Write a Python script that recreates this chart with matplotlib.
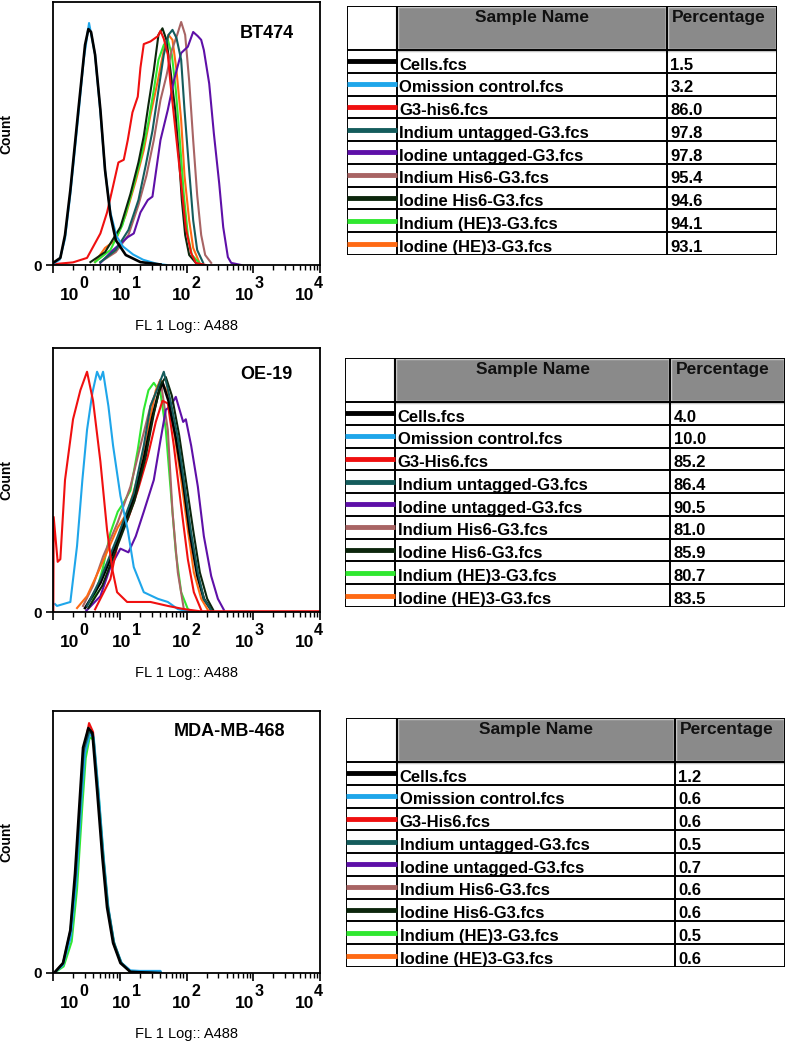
import matplotlib
matplotlib.use("Agg")
import matplotlib.pyplot as plt
import matplotlib.transforms as mtransforms
from matplotlib.patches import Rectangle
from matplotlib.ticker import FixedLocator, NullFormatter
import numpy as np

plt.rcParams['font.family'] = ['Liberation Sans', 'DejaVu Sans']

# samples (same order in every table)
sample_names = ["Cells.fcs", "Omission control.fcs", "G3-his6.fcs",
                "Indium untagged-G3.fcs", "Iodine untagged-G3.fcs",
                "Indium His6-G3.fcs", "Iodine His6-G3.fcs",
                "Indium (HE)3-G3.fcs", "Iodine (HE)3-G3.fcs"]
sample_names_2 = ["Cells.fcs", "Omission control.fcs", "G3-His6.fcs",
                  "Indium untagged-G3.fcs", "Iodine untagged-G3.fcs",
                  "Indium His6-G3.fcs", "Iodine His6-G3.fcs",
                  "Indium (HE)3-G3.fcs", "Iodine (HE)3-G3.fcs"]
sample_colors = ["#000000", "#1fa6ea", "#f01010", "#145c5c", "#5e10a8",
                 "#a86464", "#0c260c", "#30e830", "#ff6a14"]

pct_bt474 = ["1.5", "3.2", "86.0", "97.8", "97.8", "95.4", "94.6", "94.1", "93.1"]
pct_oe19 = ["4.0", "10.0", "85.2", "86.4", "90.5", "81.0", "85.9", "80.7", "83.5"]
pct_mda = ["1.2", "0.6", "0.6", "0.5", "0.7", "0.6", "0.6", "0.5", "0.6"]

decade_exponents = ["0", "1", "2", "3", "4"]

# ---- histogram traces: log10(FL1) and count (% of axis height) ----
# BT474
bt_cells_log = [0.0, 0.11, 0.18, 0.26, 0.38, 0.48, 0.53, 0.57, 0.63, 0.71, 0.78, 0.86, 0.94, 1.09, 1.31, 1.61]
bt_cells_cnt = [0.8, 2.7, 11.4, 28.5, 59, 83.7, 89.7, 88.6, 80, 59, 36, 19, 9.5, 3.8, 1.1, 0.2]
bt_omis_log = [0.0, 0.1, 0.18, 0.26, 0.38, 0.46, 0.50, 0.54, 0.57, 0.63, 0.71, 0.78, 0.86, 0.95, 1.05, 1.2, 1.35, 1.55, 1.7]
bt_omis_cnt = [0.5, 2, 10, 27, 57, 78, 85, 92, 88, 80, 58, 36, 20, 11, 7, 4, 2, 0.5, 0]
bt_g3_log = [0.0, 0.3, 0.51, 0.71, 0.81, 0.90, 0.98, 1.06, 1.12, 1.19, 1.27, 1.31, 1.36, 1.46, 1.57, 1.61, 1.66, 1.72, 1.76, 1.84, 1.92, 1.99, 2.07, 2.14, 2.29]
bt_g3_cnt = [0.3, 1, 2.7, 12, 20, 30, 39, 40, 47.5, 58, 64, 75, 84, 85, 87, 89, 86, 80, 69, 50, 31, 14, 4.5, 0.8, 0]
bt_inun_log = [0.71, 0.94, 1.13, 1.28, 1.39, 1.49, 1.58, 1.66, 1.73, 1.79, 1.85, 1.92, 1.97, 2.04, 2.10, 2.16, 2.25]
bt_inun_cnt = [1.1, 5.7, 13.3, 24.7, 38, 51, 66.5, 80, 87.5, 89.4, 86.3, 78, 59, 36, 17, 5.7, 0.8]
bt_ioun_log = [0.71, 0.90, 1.12, 1.21, 1.31, 1.42, 1.49, 1.54, 1.61, 1.72, 1.81, 1.92, 2.02, 2.10, 2.17, 2.22, 2.26, 2.34, 2.41, 2.49, 2.55, 2.62, 2.67, 2.82]
bt_ioun_cnt = [0.8, 5.7, 10.6, 12, 20, 24.7, 26, 35, 47.5, 59, 70, 80.6, 83, 88.6, 87, 85.6, 81.7, 69, 50, 31, 14.4, 3, 0.8, 0]
bt_inhis_log = [0.71, 0.94, 1.13, 1.28, 1.40, 1.51, 1.61, 1.70, 1.78, 1.86, 1.92, 1.98, 2.04, 2.10, 2.16, 2.22, 2.28, 2.37]
bt_inhis_cnt = [1.1, 4.9, 11.4, 22.8, 34, 47.5, 62.7, 72, 81.7, 87.5, 92.4, 87.5, 70, 47.5, 26.6, 11.4, 3.8, 0.8]
bt_iohis_log = [0.56, 0.78, 1.01, 1.16, 1.28, 1.36, 1.43, 1.51, 1.58, 1.64, 1.70, 1.76, 1.83, 1.89, 1.93, 1.98, 2.04, 2.14]
bt_iohis_cnt = [1.1, 4.9, 14.4, 27, 39, 49, 61, 74, 87.5, 90, 85.5, 74, 59, 40, 24.7, 11.4, 3.8, 0.8]
bt_inhe_log = [0.63, 0.86, 1.04, 1.19, 1.31, 1.42, 1.51, 1.58, 1.66, 1.72, 1.78, 1.84, 1.90, 1.96, 2.02, 2.08, 2.19]
bt_inhe_cnt = [1.1, 5.7, 15.2, 28.5, 40, 53, 66.5, 78, 83.7, 85.6, 80, 66.5, 47.5, 26.6, 11.4, 3.8, 0.8]
bt_iohe_log = [0.63, 0.78, 0.94, 1.09, 1.24, 1.36, 1.46, 1.57, 1.66, 1.73, 1.79, 1.85, 1.92, 1.97, 2.04, 2.10, 2.19]
bt_iohe_cnt = [1.1, 6.5, 9.5, 19, 32, 43.7, 57, 70, 81.7, 87.5, 85.6, 74, 55, 34, 17, 6.5, 1.1]

# OE-19
oe_cells_log = [0.48, 0.71, 0.97, 1.21, 1.36, 1.49, 1.58, 1.64, 1.73, 1.84, 1.95, 2.05, 2.16, 2.26, 2.37]
oe_cells_cnt = [1.5, 11, 27, 43, 58, 74, 83, 87, 80, 66, 49, 30, 14, 5, 0.8]
oe_omis_log = [0.03, 0.06, 0.26, 0.36, 0.44, 0.51, 0.59, 0.66, 0.71, 0.75, 0.83, 0.90, 1.01, 1.12, 1.21, 1.36, 1.57, 1.72, 1.87, 2.07]
oe_omis_cnt = [3, 2.3, 3.8, 25, 50, 69, 83, 91, 88, 91, 78, 63, 44, 31, 17, 7.5, 5, 3.8, 1.1, 0]
oe_g3a_log = [0.005, 0.01, 0.07, 0.11, 0.18, 0.30, 0.41, 0.51, 0.60, 0.71, 0.81, 0.89, 0.96, 1.11, 1.46, 1.72, 1.96, 2.2, 4.0]
oe_g3a_cnt = [0, 36, 19, 20, 50, 73, 84, 91, 80, 57, 31, 16, 7.5, 3.8, 3.8, 2.3, 1.1, 0.3, 0.3]
oe_g3b_log = [0.63, 0.86, 1.01, 1.12, 1.27, 1.42, 1.54, 1.64, 1.72, 1.81, 1.92, 2.02, 2.11, 2.22]
oe_g3b_cnt = [1, 12.5, 31, 35, 46, 59, 72, 80, 79, 63, 40, 20, 7.5, 0.8]
oe_inun_log = [0.51, 0.71, 0.97, 1.21, 1.36, 1.46, 1.57, 1.66, 1.76, 1.87, 1.96, 2.07, 2.17, 2.26, 2.37]
oe_inun_cnt = [2.3, 12.5, 28.7, 45, 63, 78, 85, 91, 80, 66, 50, 30, 15, 5, 0.8]
oe_ioun_log = [0.5, 0.71, 0.86, 1.01, 1.13, 1.24, 1.36, 1.51, 1.61, 1.69, 1.76, 1.84, 1.88, 1.95, 1.99, 2.07, 2.17, 2.26, 2.37, 2.47, 2.56]
oe_ioun_cnt = [0.5, 6, 17, 24, 22.6, 28.7, 38, 50, 65, 76.6, 78, 81.5, 78, 72, 73, 63, 47.5, 28.7, 13.6, 5, 0.8]
oe_inhis_log = [0.45, 0.60, 0.75, 0.97, 1.16, 1.31, 1.46, 1.57, 1.61, 1.72, 1.79, 1.87, 1.96, 2.07]
oe_inhis_cnt = [2.3, 10, 21, 34, 47.5, 63, 78, 85, 88, 69, 38, 15, 1.1, 0]
oe_iohis_log = [0.53, 0.74, 0.98, 1.22, 1.39, 1.51, 1.61, 1.69, 1.78, 1.89, 1.99, 2.10, 2.20, 2.31, 2.40]
oe_iohis_cnt = [1.5, 10, 26, 42, 59, 75, 86, 89, 82, 67, 50, 31, 15, 5, 0.8]
oe_inhe_log = [0.56, 0.66, 0.75, 0.86, 0.97, 1.06, 1.16, 1.27, 1.36, 1.43, 1.51, 1.61, 1.69, 1.77, 1.84, 1.92, 2.02, 2.11]
oe_inhe_cnt = [2.3, 8.7, 17, 30, 38, 41.5, 46, 61.5, 76.6, 84, 86.8, 83, 69, 44, 22.6, 7.5, 1.1, 0]
oe_iohe_log = [0.36, 0.51, 0.71, 0.97, 1.12, 1.27, 1.42, 1.54, 1.61, 1.72, 1.81, 1.92, 2.02, 2.11, 2.22, 2.32]
oe_iohe_cnt = [1.5, 6, 17, 32, 38, 51, 69, 84, 88, 83, 69, 50, 31, 15, 5, 0.8]

# MDA-MB-468
mda_cells_log = [0.03, 0.15, 0.26, 0.33, 0.41, 0.45, 0.53, 0.59, 0.66, 0.74, 0.81, 0.90, 1.01, 1.16, 1.61]
mda_cells_cnt = [0.4, 3.8, 16.4, 38, 70, 86, 93.5, 91.6, 70, 44, 25, 11.5, 3.8, 0.4, 0]
mda_omis_log = [0.03, 0.15, 0.27, 0.35, 0.43, 0.48, 0.55, 0.61, 0.68, 0.76, 0.83, 0.92, 1.03, 1.16, 1.3, 1.61, 1.62]
mda_omis_cnt = [0.3, 3, 14, 35, 67, 84, 91, 90, 70, 44, 25, 11, 3.8, 1.0, 0.8, 0.8, 0]
mda_g3_log = [0.03, 0.15, 0.27, 0.34, 0.42, 0.47, 0.54, 0.60, 0.67, 0.75, 0.82, 0.91, 1.02, 1.16, 1.5]
mda_g3_cnt = [0.3, 3.5, 15, 36, 68, 86, 95.4, 92, 70, 44, 25, 11, 3.8, 0.6, 0]
mda_inun_log = [0.03, 0.15, 0.26, 0.34, 0.42, 0.46, 0.54, 0.60, 0.67, 0.75, 0.82, 0.91, 1.02, 1.16, 1.55]
mda_inun_cnt = [0.4, 3.6, 16, 37, 69, 85, 92, 91, 70, 45, 26, 12, 4, 0.5, 0]
mda_inhe_log = [0.03, 0.16, 0.28, 0.36, 0.44, 0.49, 0.55, 0.61, 0.68, 0.76, 0.83, 0.92, 1.03, 1.16, 1.5]
mda_inhe_cnt = [0.2, 2.5, 12, 32, 64, 82, 90, 89, 69, 43, 24, 10.5, 3.5, 0.5, 0]

C = dict(zip(["cells", "omis", "g3", "inun", "ioun", "inhis", "iohis", "inhe", "iohe"], sample_colors))

panel_bt = [(bt_iohe_log, bt_iohe_cnt, C["iohe"]), (bt_inhe_log, bt_inhe_cnt, C["inhe"]),
            (bt_iohis_log, bt_iohis_cnt, C["iohis"]), (bt_inhis_log, bt_inhis_cnt, C["inhis"]),
            (bt_ioun_log, bt_ioun_cnt, C["ioun"]), (bt_inun_log, bt_inun_cnt, C["inun"]),
            (bt_g3_log, bt_g3_cnt, C["g3"]), (bt_omis_log, bt_omis_cnt, C["omis"]),
            (bt_cells_log, bt_cells_cnt, C["cells"])]
panel_oe = [(oe_inhe_log, oe_inhe_cnt, C["inhe"]), (oe_inhis_log, oe_inhis_cnt, C["inhis"]),
            (oe_iohe_log, oe_iohe_cnt, C["iohe"]), (oe_ioun_log, oe_ioun_cnt, C["ioun"]),
            (oe_g3b_log, oe_g3b_cnt, C["g3"]), (oe_cells_log, oe_cells_cnt, C["cells"]),
            (oe_iohis_log, oe_iohis_cnt, C["iohis"]), (oe_inun_log, oe_inun_cnt, C["inun"]),
            (oe_omis_log, oe_omis_cnt, C["omis"]), (oe_g3a_log, oe_g3a_cnt, C["g3"])]
panel_mda = [(mda_inhe_log, mda_inhe_cnt, C["inhe"]), (mda_g3_log, mda_g3_cnt, C["g3"]),
             (mda_omis_log, mda_omis_cnt, C["omis"]), (mda_inun_log, mda_inun_cnt, C["inun"]),
             (mda_cells_log, mda_cells_cnt, C["cells"])]

W, H = 787, 1043
fig = plt.figure(figsize=(W / 100, H / 100), dpi=100)


def px_axes(left, top, right, bottom):
    return fig.add_axes([left / W, 1 - bottom / H, (right - left) / W, (bottom - top) / H])


def draw_hist(ax, traces, title, title_xy):
    for lg, cnt, col in traces:
        lw = 1.9 if col == "#000000" else 1.5
        ax.plot(10 ** np.array(lg), cnt, color=col, lw=lw)
    ax.set_xscale('log')
    ax.set_xlim(1, 1e4)
    ax.set_ylim(0, 100)
    ax.xaxis.set_major_locator(FixedLocator([1, 10, 100, 1000, 10000]))
    minors = [m * 10 ** d for d in range(4) for m in range(2, 10)]
    ax.xaxis.set_minor_locator(FixedLocator(minors))
    ax.xaxis.set_major_formatter(NullFormatter())
    ax.xaxis.set_minor_formatter(NullFormatter())
    ax.set_yticks([0])
    ax.set_yticklabels(["0"], fontsize=11, fontweight='bold')
    ax.tick_params(axis='x', which='major', length=5.5, width=1.2, direction='out')
    ax.tick_params(axis='x', which='minor', length=3.5, width=1.0, direction='out')
    ax.tick_params(axis='y', length=5, width=1.2, pad=3)
    for s in ax.spines.values():
        s.set_linewidth(1.3)
    # decade labels "10" with a large exponent, nudged like the original export
    nudges = [18.7, 8.6, 3.6, 0.7, -4.3]
    base = mtransforms.blended_transform_factory(ax.transData, ax.transAxes)
    for k, (ex, dx) in enumerate(zip(decade_exponents, nudges)):
        tr = mtransforms.offset_copy(base, fig=fig, x=dx, y=0, units='points')
        ax.text(10 ** k, -0.088, "10", transform=tr, ha='right', va='top',
                fontsize=12.5, fontweight='bold')
        ax.text(10 ** k, -0.098, ex, transform=tr, ha='left', va='bottom',
                fontsize=11.5, fontweight='bold')
    ax.set_ylabel("Count", fontsize=10, fontweight='bold')
    ax.yaxis.set_label_coords(-0.148, 0.5)
    ax.set_xlabel("FL 1 Log:: A488", fontsize=10.5)
    ax.xaxis.set_label_coords(0.5, -0.205)
    ax.text(title_xy[0], title_xy[1], title, transform=ax.transAxes, ha='center', va='center',
            fontsize=13, fontweight='bold')


def draw_table(ax, names, pcts, col1, col2):
    n = len(names)
    hdr = 1.93
    ax.set_xlim(0, 1)
    ax.set_ylim(hdr + n, 0)
    ax.axis('off')
    ax.add_patch(Rectangle((col1, 0), col2 - col1, hdr, fc='#8a8a8a', ec='#c4c4c4', lw=2.5))
    ax.add_patch(Rectangle((col2, 0), 1 - col2, hdr, fc='#8a8a8a', ec='#c4c4c4', lw=2.5))
    for y in [0, hdr] + [hdr + i for i in range(1, n + 1)]:
        ax.plot([0, 1], [y, y], color='black', lw=1.4, solid_capstyle='projecting')
    for x in [0, col1, col2, 1]:
        ax.plot([x, x], [0, hdr + n], color='black', lw=1.4, solid_capstyle='projecting')
    ax.text((col1 + col2) / 2, 0.5, "Sample Name", ha='center', va='center',
            fontsize=12.5, fontweight='bold', color='#111111')
    ax.text(col2 + 0.012, 0.5, "Percentage", ha='left', va='center',
            fontsize=12.5, fontweight='bold', color='#111111')
    for i, (nm, pc, col) in enumerate(zip(names, pcts, sample_colors)):
        y0 = hdr + i
        ax.plot([0, col1], [y0 + 0.5, y0 + 0.5], color=col, lw=3.5, solid_capstyle='butt')
        ax.text(col1 + 0.006, y0 + 0.86, nm, ha='left', va='baseline', fontsize=12, fontweight='bold')
        ax.text(col2 + 0.008, y0 + 0.86, pc, ha='left', va='baseline', fontsize=12, fontweight='bold')


ax1 = px_axes(53, 2, 320, 265)
draw_hist(ax1, panel_bt, "BT474", (0.80, 0.88))
ax2 = px_axes(53, 348, 320, 612)
draw_hist(ax2, panel_oe, "OE-19", (0.80, 0.90))
ax3 = px_axes(53, 711, 320, 973)
draw_hist(ax3, panel_mda, "MDA-MB-468", (0.66, 0.92))

t1 = px_axes(347, 6, 777, 255)
draw_table(t1, sample_names, pct_bt474, 0.116, 0.744)
t2 = px_axes(345, 358, 785, 607)
draw_table(t2, sample_names_2, pct_oe19, 0.114, 0.739)
t3 = px_axes(346, 718, 785, 967)
draw_table(t3, sample_names_2, pct_mda, 0.116, 0.749)

fig.savefig("out.png", dpi=100)
